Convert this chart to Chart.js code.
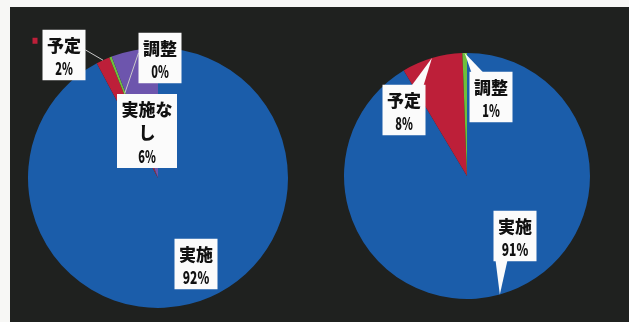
<!DOCTYPE html>
<html lang="ja">
<head>
<meta charset="UTF-8">
<title>実施状況</title>
<script src="https://cdn.jsdelivr.net/npm/chart.js@4"></script>
<style>
  html, body {
    margin: 0;
    padding: 0;
    width: 629px;
    height: 322px;
    overflow: hidden;
    background: #f7f7f5;
  }
  #panel {
    position: absolute;
    left: 10px;
    top: 7px;
    right: 0;
    bottom: 0;
    background: #1f211f;
  }
  canvas {
    position: absolute;
    left: 0;
    top: 0;
  }
</style>
</head>
<body>
  <div id="panel"></div>
  <canvas id="left" width="629" height="322"></canvas>
  <canvas id="right" width="629" height="322"></canvas>

  <script>
    // categories and values (percent of cases)
    const leftCategories = ['実施', '予定', '調整', '実施なし'];
    const leftValues = [92.2, 1.7, 0.3, 5.8];
    const rightCategories = ['実施', '予定', '調整'];
    const rightValues = [91.4, 8.0, 0.6];

    const colors = {
      '実施': '#1b5daa',
      '予定': '#bd1f39',
      '調整': '#6fbf3c',
      '実施なし': '#6d55ad',
    };

    // where each label box sits, relative to the pie centre
    const leftLabelLayout = [
      { dx: 38, dy: 86 },
      { dx: -94, dy: -123, pointer: 'line', reach: 1.0, marker: true },
      { dx: 2, dy: -120, pointer: 'line', reach: 0.7 },
      { dx: -11, dy: -47, wrap: 3 },
    ];
    const rightLabelLayout = [
      { dx: 48, dy: 60, pointer: 'callout', reach: 1.0 },
      { dx: -63, dy: -66, pointer: 'callout', reach: 1.0 },
      { dx: 24, dy: -79, pointer: 'callout', reach: 1.0 },
    ];

    const FONT = '"Noto Sans CJK JP", "Noto Sans", sans-serif';

    const calloutLabels = {
      id: 'calloutLabels',
      afterDatasetsDraw(chart, args, opts) {
        const ctx = chart.ctx;
        const meta = chart.getDatasetMeta(0);
        const values = chart.data.datasets[0].data;
        const total = values.reduce((a, b) => a + b, 0);
        const layout = opts.layout;

        meta.data.forEach((arc, i) => {
          const L = layout[i];
          if (!L) return;
          const name = chart.data.labels[i];
          const pct = Math.round(values[i] / total * 100) + '%';

          let lines = [];
          if (L.wrap) {
            for (let k = 0; k < name.length; k += L.wrap) lines.push(name.slice(k, k + L.wrap));
          } else {
            lines.push(name);
          }
          lines.push(pct);

          ctx.save();
          ctx.font = '900 17px ' + FONT;
          const widths = lines.map((s, k) => {
            if (k === lines.length - 1) return 8.8 * s.length;
            return Math.min(ctx.measureText(s).width, 17.5 * s.length);
          });
          const w = Math.max(...widths) + 9;
          const h = 27 + 23.5 * (lines.length - 1);
          const cx = arc.x + L.dx, cy = arc.y + L.dy;
          const left = cx - w / 2, top = cy - h / 2, right = cx + w / 2, bottom = cy + h / 2;

          // anchor on the slice
          const mid = (arc.startAngle + arc.endAngle) / 2;
          const r = arc.outerRadius * (L.reach || 1);
          const ax = arc.x + Math.cos(mid) * r;
          const ay = arc.y + Math.sin(mid) * r;

          if (L.pointer === 'line') {
            const sx = ax < left ? left : right;
            const sy = top + h * 0.4;
            ctx.strokeStyle = '#c9c9c9';
            ctx.lineWidth = 1;
            ctx.beginPath();
            ctx.moveTo(sx, sy);
            ctx.lineTo(ax, ay);
            ctx.stroke();
          }

          ctx.fillStyle = '#fbfbfb';
          ctx.fillRect(left, top, w, h);

          if (L.pointer === 'callout') {
            const bx = Math.min(Math.max(ax, left + 8), right - 8);
            const by = ay < top ? top + 1 : bottom - 1;
            ctx.beginPath();
            ctx.moveTo(bx - 6, by);
            ctx.lineTo(ax, ay);
            ctx.lineTo(bx + 6, by);
            ctx.closePath();
            ctx.fill();
          }

          if (L.marker) {
            ctx.fillStyle = chart.data.datasets[0].backgroundColor[i];
            ctx.fillRect(left - 10, top + 8, 5, 6);
          }

          ctx.fillStyle = '#111';
          ctx.textAlign = 'center';
          ctx.textBaseline = 'middle';
          lines.forEach((s, k) => {
            const y = top + 14.5 + 23.5 * k;
            if (k === lines.length - 1) {
              ctx.font = '900 17px ' + FONT;
            }
            ctx.fillText(s, cx, y + 1, widths[k]);
          });
          ctx.restore();
        });
      }
    };

    function makePie(id, categories, values, layout, padding) {
      return new Chart(document.getElementById(id), {
        type: 'pie',
        data: {
          labels: categories,
          datasets: [{
            data: values,
            backgroundColor: categories.map(c => colors[c]),
            borderWidth: 0,
            hoverOffset: 0,
          }]
        },
        options: {
          responsive: false,
          animation: false,
          events: [],
          layout: { padding: padding },
          plugins: {
            legend: { display: false },
            tooltip: { enabled: false },
            calloutLabels: { layout: layout },
          }
        },
        plugins: [calloutLabels],
      });
    }

    makePie('left', leftCategories, leftValues, leftLabelLayout,
      { left: 28, top: 48, right: 341, bottom: 14 });
    makePie('right', rightCategories, rightValues, rightLabelLayout,
      { left: 344, top: 53, right: 39, bottom: 23 });
  </script>
</body>
</html>
